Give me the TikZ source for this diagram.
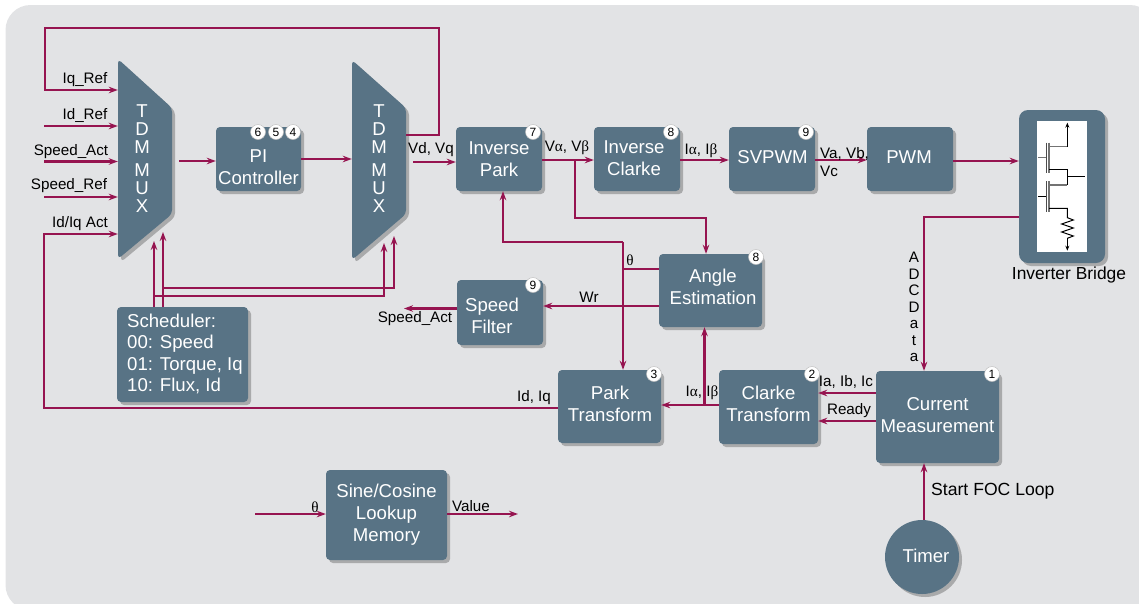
\documentclass[tikz,border=0pt]{standalone}
\usepackage{fontspec}
\setmainfont{Liberation Sans}
\newfontfamily\grk{Liberation Serif}
\usetikzlibrary{arrows.meta, shadows}
\definecolor{bgcol}{HTML}{E2E3E5}
\definecolor{boxcol}{HTML}{587385}
\definecolor{wirecol}{HTML}{961450}
\tikzset{
    blockshadow/.style={drop shadow={shadow xshift=3pt, shadow yshift=-3pt, fill=black, opacity=0.25}},
    blockbox/.style={rectangle, rounded corners=4pt, fill=boxcol, text=white, inner sep=0pt, align=center, blockshadow, font=\fontsize{18.6}{22}\selectfont},
    blocktext/.style={inner sep=0pt, text=white, align=center, font=\fontsize{18.6}{22}\selectfont},
    tag/.style={circle, fill=white, draw=black!25, line width=0.5pt, minimum size=15pt, inner sep=0pt, font=\fontsize{12}{12}\selectfont},
    lbl/.style={inner sep=0pt, text=black, font=\fontsize{15.2}{17}\selectfont},
    wire/.style={draw=wirecol, line width=2.8pt},
    thinwire/.style={draw=wirecol, line width=1.9pt},
    tip/.style={-{Stealth[length=9pt, width=6.5pt]}},
}
\begin{document}
\begin{tikzpicture}[x=1pt, y=-1pt]
    \useasboundingbox (0,0) rectangle (1139,603);
    \clip (0,0) rectangle (1139,603);
    \fill[bgcol, rounded corners=25pt] (5.5,5) rectangle (1155,610);

    % the two multiplexers
    \fill[boxcol, rounded corners=4pt, blockshadow] (118,59) -- (172,108) -- (172,214) -- (118,259) -- cycle;
    \fill[boxcol, rounded corners=4pt, blockshadow] (352,60) -- (406,108) -- (406,214) -- (352,260) -- cycle;
    \node[blocktext, minimum width=48pt, minimum height=200pt] (muxa) at (142,159) {T\\[-4pt]D\\[-4pt]M\\[1pt]M\\[-4pt]U\\[-4pt]X};
    \node[blocktext, minimum width=54pt, minimum height=200pt] (muxb) at (379,159) {T\\[-4pt]D\\[-4pt]M\\[1pt]M\\[-4pt]U\\[-4pt]X};

    % blocks
    \node[blockbox, minimum width=85pt, minimum height=64pt] (pi) at (258.5,159) {};
    \node[blocktext] (pitext) at (258.5,167) {PI\\Controller};
    \node[blockbox, minimum width=86pt, minimum height=64pt] (ipark) at (499,159) {Inverse\\Park};
    \node[blockbox, minimum width=86pt, minimum height=64pt] (iclarke) at (637,159) {};
    \node[blocktext] (iclarketext) at (634,158) {Inverse\\Clarke};
    \node[blockbox, minimum width=86pt, minimum height=64pt] (svpwm) at (772,159) {};
    \node[blocktext] (svpwmtext) at (772.5,157) {SVPWM};
    \node[blockbox, minimum width=86pt, minimum height=64pt] (pwm) at (910,159) {};
    \node[blocktext] (pwmtext) at (909,157.5) {PWM};
    \node[blockbox, rounded corners=9pt, minimum width=86pt, minimum height=153pt] (bridge) at (1062,186.5) {};
    \node[blockbox, minimum width=103pt, minimum height=73pt] (angle) at (710.5,290.5) {};
    \node[blocktext] (angletext) at (713,287) {Angle\\Estimation};
    \node[blockbox, minimum width=86pt, minimum height=65pt] (filter) at (500,312.5) {};
    \node[blocktext] (filtertext) at (492,315.5) {Speed\\Filter};
    \node[blockbox, minimum width=131pt, minimum height=95pt] (sched) at (182.5,354.5) {};
    \node[blocktext, anchor=west, align=left, font=\fontsize{18.6}{21.6}\selectfont] (schedtext) at (127,354) {Scheduler:\\00: Speed\\01: Torque, Iq\\10: Flux, Id};
    \node[blockbox, minimum width=103pt, minimum height=73pt] (park) at (609.5,406.5) {};
    \node[blocktext] (parktext) at (610,404) {Park\\Transform};
    \node[blockbox, minimum width=99pt, minimum height=74pt] (clarke) at (768.5,407) {};
    \node[blocktext] (clarketext) at (768.5,404) {Clarke\\Transform};
    \node[blockbox, minimum width=123pt, minimum height=92pt] (current) at (937.5,417) {};
    \node[blocktext] (currenttext) at (937.5,415) {Current\\Measurement};
    \node[blockbox, minimum width=121pt, minimum height=90pt] (lookup) at (386.5,515) {};
    \node[blocktext] (lookuptext) at (386.5,515) {Sine/Cosine\\Lookup\\Memory};
    \node[blockbox, circle, minimum size=74pt] (timer) at (922,557) {};
    \node[blocktext] (timertext) at (926,556) {Timer};

    % step numbers
    \node[tag] (tagpia) at (258,132) {6};
    \node[tag] (tagpib) at (276,132) {5};
    \node[tag] (tagpic) at (293,132) {4};
    \node[tag] (tagipark) at (533,132) {7};
    \node[tag] (tagiclarke) at (671,132) {8};
    \node[tag] (tagsvpwm) at (806,132) {9};
    \node[tag] (tagangle) at (756,257) {8};
    \node[tag] (tagfilter) at (533,285) {9};
    \node[tag] (tagpark) at (654,374) {3};
    \node[tag] (tagclarke) at (812,374) {2};
    \node[tag] (tagcurrent) at (992,374) {1};

    % free ends and junctions
    \coordinate (idref) at (44,126);
    \coordinate (speedact) at (44,161.5);
    \coordinate (speedref) at (44,197);
    \coordinate (muxaout) at (179,161);
    \coordinate (muxbout) at (413,162);
    \coordinate (muxatipa) at (154,241);
    \coordinate (muxatipb) at (163,232);
    \coordinate (muxbtipa) at (384,243);
    \coordinate (muxbtipb) at (394,236);
    \coordinate (vsplit) at (575,160);
    \coordinate (thetasplit) at (623,269);
    \coordinate (iabsplit) at (704.5,405);
    \coordinate (filterout) at (404,308.5);
    \coordinate (lookupin) at (255,514);
    \coordinate (lookupout) at (518,514);

    % connectors of the left half
    \draw[wire, tip] (muxb.east |- 0,135) -| (439,28) -| (45,90) -- (muxa.west |- 0,90);
    \draw[thinwire, tip] (idref) -- (muxa.west |- idref);
    \draw[wire, tip] (speedact) -- (muxa.west |- speedact);
    \draw[wire, tip] (speedref) -- (muxa.west |- speedref);
    \draw[wire, tip] (park.west |- 0,408) -| (44,234) -- (muxa.west |- 0,234);
    \draw[wire, tip] (muxaout) -- (pi.west |- muxaout);
    \draw[wire, tip] (pi.east) -- (muxb.west |- pi.east);
    \draw[wire, tip] (muxbout) -- (ipark.west |- muxbout);
    \draw[wire, tip] (sched.north -| muxatipa) -- (muxatipa);
    \draw[wire, tip] (sched.north -| muxatipb) -- (muxatipb);
    \draw[wire, tip] (muxatipa |- 0,296) -| (muxbtipa);
    \draw[wire, tip] (muxatipb |- 0,288) -| (muxbtipb);

    % connectors of the upper row
    \draw[thinwire, tip] (ipark.east |- vsplit) -- (iclarke.west |- vsplit);
    \draw[thinwire, tip] (iclarke.east |- vsplit) -- (svpwm.west |- vsplit);
    \draw[wire, tip] (svpwm.east |- vsplit) -- (pwm.west |- vsplit);
    \draw[wire, tip] (pwm.east |- 0,161) -- (bridge.west |- 0,161);
    \draw[wire, tip] (vsplit) |- (706,218) -- (angle.north -| 706,218);
    \draw[wire, tip] (bridge.west |- 0,217) -| (current.north -| 924,217);

    % connectors of the estimator and the transforms
    \draw[wire, tip] (623,242) -- (park.north -| 623,242);
    \draw[wire, tip] (623,242) -| (ipark.south -| 503,242);
    \draw[thinwire] (angle.west |- thetasplit) -- (thetasplit);
    \draw[wire, tip] (angle.west |- 0,306) -- (filter.east |- 0,306);
    \draw[wire, tip] (filter.west |- filterout) -- (filterout);
    \draw[wire, tip] (clarke.west |- iabsplit) -- (park.east |- iabsplit);
    \draw[wire, tip] (iabsplit) -- (angle.south -| iabsplit);
    \draw[wire, tip] (current.west |- 0,393) -- (clarke.east |- 0,393);
    \draw[wire, tip] (current.west |- 0,421) -- (clarke.east |- 0,421);
    \draw[wire, tip] (timer.north -| 924,500) -- (current.south -| 924,500);
    \draw[wire, tip] (lookupin) -- (lookup.west |- lookupin);
    \draw[wire, tip] (lookup.east |- lookupout) -- (lookupout);

    % signal names
    \node[lbl] (lbliqref) at (85,80) {Iq\_Ref};
    \node[lbl] (lblidref) at (85,115) {Id\_Ref};
    \node[lbl] (lblspeedact) at (71,152) {Speed\_Act};
    \node[lbl] (lblspeedref) at (69,186) {Speed\_Ref};
    \node[lbl] (lblidiq) at (80,224) {Id/Iq Act};
    \node[lbl] (lblvdvq) at (431,150) {Vd, Vq};
    \node[lbl] (lblvab) at (567,148) {V{\grk α}, V{\grk β}};
    \node[lbl] (lbliab) at (701,151) {I{\grk α}, I{\grk β}};
    \node[lbl, anchor=west, align=left, font=\fontsize{15.2}{18}\selectfont] (lblvabc) at (820,162) {Va, Vb,\\Vc};
    \node[lbl] (lbltheta) at (630,260) {\grk θ};
    \node[lbl] (lblwr) at (589,297) {Wr};
    \node[lbl] (lblfilter) at (415,319) {Speed\_Act};
    \node[lbl] (lblidiqb) at (534,398) {Id, Iq};
    \node[lbl] (lbliabb) at (702,393) {I{\grk α}, I{\grk β}};
    \node[lbl] (lbliabc) at (846,382) {Ia, Ib, Ic};
    \node[lbl] (lblready) at (849,411) {Ready};
    \node[lbl, align=center, font=\fontsize{15.2}{16.5}\selectfont] (lbladc) at (914,307) {A\\D\\C\\D\\a\\t\\a};
    \node[lbl, anchor=west, font=\fontsize{17.6}{20}\selectfont] (lblstart) at (931,491) {Start FOC Loop};
    \node[lbl] (lblthetab) at (315,507) {\grk θ};
    \node[lbl] (lblvalue) at (471,506) {Value};
    \node[lbl, font=\fontsize{17.4}{20}\selectfont] (lblbridge) at (1069,275) {Inverter Bridge};

    % transistor pair in the bridge
    \fill[white] (1037,121) rectangle (1087,252);
    \begin{scope}[shift={(980,90)}, x=0.3333pt, y=-0.3333pt]
        \draw[black!55, line width=1.2pt] (174,203) -- (200,203);
        \draw[black!70, line width=1.2pt] (200,158) -- (200,250);
        \draw[black!55, line width=1.5pt] (207,158) -- (207,250);
        \draw[black!55, line width=1.2pt] (207,170) -- (262,170);
        \draw[black, line width=1pt, -{Stealth[length=5pt, width=4pt]}] (262,170) -- (262,98);
        \draw[black, line width=1pt] (207,238) -- (262,238) -- (262,285);
        \draw[black!55, line width=1.2pt] (207,285) -- (262,285);
        \draw[black, line width=1pt] (262,261) -- (315,261);
        \draw[black, line width=1pt] (174,319) -- (200,319);
        \draw[black!70, line width=1.2pt] (200,274) -- (200,367);
        \draw[black!55, line width=1.5pt] (207,274) -- (207,367);
        \draw[black, line width=1pt] (207,355) -- (262,355) -- (262,383) -- (280,390) -- (245,402) -- (280,414) -- (245,426) -- (280,438) -- (262,445);
        \draw[black, line width=1pt, -{Stealth[length=5pt, width=4pt]}] (262,445) -- (262,482);
    \end{scope}
\end{tikzpicture}
\end{document}
